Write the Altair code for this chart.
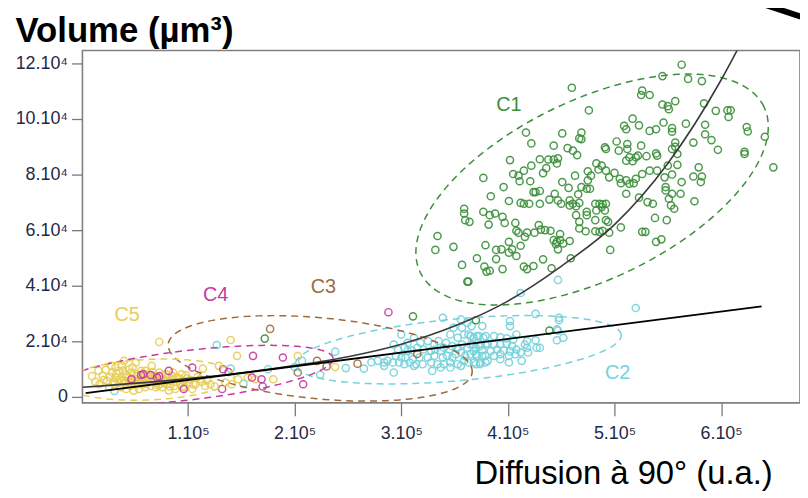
import altair as alt
import numpy as np
import pandas as pd

# ---- data (x in units of 1e5, y in units of 1e4) ----
c1_x = [5.63,5.45,5.69,5.82,4.60,5.26,5.25,5.33,5.45,5.50,5.57,5.51,5.84,4.76,5.95,6.06,6.09,6.07,5.17,5.09,
        5.11,5.23,5.33,5.39,5.46,5.54,5.54,5.67,5.85,6.24,6.25,6.41,4.17,4.51,4.69,4.67,4.69,4.22,4.43,4.56,
        4.61,4.65,4.91,4.92,5.02,5.04,5.12,5.12,5.25,5.39,5.40,5.30,5.22,5.14,5.11,5.17,5.20,5.54,5.57,5.57,
        5.59,5.74,5.85,5.91,5.97,6.22,6.22,6.49,
        4.02,4.30,4.38,4.43,4.47,4.46,4.22,4.36,4.15,4.05,4.10,4.33,3.77,4.11,4.21,3.96,4.24,4.26,4.30,4.44,
        4.51,4.57,4.63,4.75,4.83,4.88,4.85,4.92,4.78,4.75,4.69,4.77,4.74,4.95,5.00,5.05,5.06,5.11,5.14,5.18,
        5.20,5.26,5.33,5.40,5.47,5.50,5.59,5.54,5.63,5.48,5.48,5.54,5.62,5.51,5.53,5.56,5.79,5.74,5.82,5.81,
        5.75,5.11,5.31,5.36,5.23,
        3.84,4.01,4.12,4.15,4.20,4.30,4.39,4.47,4.50,4.58,4.58,4.61,4.64,4.67,4.66,4.82,4.86,4.89,4.92,4.88,
        4.83,4.91,4.64,4.74,4.74,4.82,4.92,4.94,3.59,3.59,3.60,3.64,3.77,3.83,3.88,3.95,3.97,3.82,4.07,
        3.34,3.32,3.49,3.79,3.89,3.94,4.01,4.04,4.08,4.10,4.16,4.18,4.25,4.29,4.31,4.35,4.40,4.43,4.46,4.49,
        4.49,4.52,4.58,4.67,4.67,4.73,4.82,4.86,4.89,4.95,5.06,5.26,5.29,5.39,5.44,5.49,5.38,4.96,4.12,4.08,
        3.89,4.15,4.18,4.24,4.33,4.41,4.59,3.57,3.78,3.80,3.83,3.95,3.62,3.63,4.47,4.45,4.01,3.71,
        1.72,3.11,3.70,4.39]
c1_y = [11.95,11.54,11.44,11.36,11.12,11.02,10.86,10.86,10.52,10.46,10.64,10.35,10.56,10.31,10.29,10.31,10.31,10.07,10.01,9.75,
        9.63,9.77,9.57,9.63,9.87,9.67,9.54,9.83,9.79,9.71,9.55,9.36,9.51,9.48,9.51,9.30,9.27,9.12,9.04,8.95,
        8.86,8.70,8.98,8.92,9.19,8.86,9.10,8.92,9.04,8.76,8.68,8.66,8.68,8.62,8.50,8.48,8.62,8.92,9.15,9.00,
        8.74,9.15,9.45,9.24,8.89,8.82,8.74,8.26,
        8.52,8.55,8.54,8.54,8.58,8.40,8.32,8.23,8.14,8.02,7.96,8.05,7.88,7.76,7.76,7.55,7.37,7.37,7.41,7.31,
        7.73,7.52,7.96,8.12,8.40,8.32,8.18,8.14,7.96,7.79,7.55,7.49,7.49,7.90,8.06,7.85,7.69,7.79,7.67,7.69,
        7.85,8.02,8.14,8.14,7.90,8.32,8.35,8.00,7.73,7.55,7.43,7.31,7.31,7.13,6.89,6.77,8.26,7.93,7.93,7.73,
        7.04,7.31,7.01,6.95,7.17,
        7.22,7.05,6.98,6.95,6.95,6.95,7.10,7.07,6.95,7.07,6.89,6.95,6.86,6.98,7.29,6.95,6.95,6.93,6.95,6.83,
        6.71,6.71,6.54,6.66,6.54,6.36,6.36,6.30,6.77,6.60,6.36,6.30,6.66,6.54,6.60,6.48,6.26,6.20,6.26,
        5.79,5.29,5.40,5.46,5.29,5.31,5.58,5.31,5.98,5.91,5.76,5.91,5.91,6.18,6.02,6.00,5.98,5.64,5.58,5.86,
        5.64,5.52,5.61,6.06,6.30,5.96,5.96,5.94,5.98,5.91,6.10,5.94,5.94,5.58,5.67,6.36,6.44,5.29,5.44,5.07,
        4.96,4.69,4.60,4.71,4.95,4.63,4.99,4.75,4.69,4.51,4.54,4.60,4.15,4.15,5.31,5.50,5.19,4.99,
        2.10,2.90,2.76,2.39]

c2_x = [3.39,3.56,3.62,3.49,3.57,3.66,3.76,
        3.00,3.06,3.12,3.18,3.25,3.31,3.35,3.42,3.46,3.53,3.59,3.63,3.68,3.73,3.77,
        2.93,2.97,3.03,3.06,3.10,3.15,3.21,3.28,3.32,3.37,3.40,3.45,3.48,3.53,3.57,3.62,3.65,3.70,3.74,3.79,
        2.95,3.00,3.04,3.11,3.17,3.25,3.31,3.39,3.43,3.48,3.51,3.56,3.60,3.65,3.70,3.76,
        2.78,2.84,2.87,2.92,2.98,3.03,3.08,3.14,3.20,3.28,3.34,3.40,3.46,3.53,3.59,3.63,3.70,3.74,3.79,
        2.84,2.93,3.12,3.29,3.37,3.46,3.56,
        2.48,2.38,2.24,2.07,2.00,
        4.47,4.12,5.20,4.26,4.48,4.02,4.02,4.46,4.52,4.46,4.08,4.18,4.26,4.16,4.18,4.27,4.30,4.19,4.12,4.13,
        4.01,3.93,3.81,3.74,3.68,
        3.65,3.71,3.79,3.87,3.93,3.99,4.05,3.67,3.74,3.81,3.87,3.93,3.99,4.04,3.68,3.76,3.84,3.90,3.96,4.02,
        4.08,3.71,3.79,3.87,3.93,4.01,4.07,
        1.27,1.40,1.52,1.75,0.31,2.65,2.72,4.48,4.47]
c2_y = [2.85,2.79,2.67,2.49,2.49,2.55,2.55,
        2.25,1.95,2.13,1.95,2.01,1.89,2.01,1.95,2.25,2.13,2.25,2.25,2.13,2.19,2.13,
        1.89,1.71,1.77,1.66,1.68,1.77,1.71,1.66,1.71,1.66,1.77,1.71,1.83,1.77,1.89,1.77,1.89,1.77,1.83,1.89,
        1.48,1.42,1.42,1.36,1.42,1.42,1.48,1.42,1.48,1.42,1.54,1.60,1.48,1.54,1.54,1.48,
        1.30,1.24,1.30,1.24,1.24,1.18,1.24,1.18,1.18,1.24,1.18,1.18,1.24,1.18,1.30,1.24,1.18,1.24,1.24,
        1.12,0.88,1.12,0.94,1.06,1.06,1.12,
        1.04,1.63,0.80,1.30,1.08,
        4.21,3.74,3.20,2.99,2.85,2.73,2.55,2.43,2.13,2.04,2.25,2.01,2.04,1.89,1.77,1.77,1.77,1.60,1.60,1.30,
        1.24,1.36,1.30,1.18,1.24,
        2.19,2.19,2.19,2.19,2.15,2.11,2.07,1.89,1.89,1.92,1.89,1.89,1.92,1.83,1.65,1.68,1.65,1.71,1.68,1.65,
        1.71,1.48,1.48,1.48,1.54,1.48,1.54,
        1.87,1.02,0.47,1.00,0.22,1.02,1.25,2.76,2.39]

c3_x = [1.77, 2.21, 2.30, 2.59, 2.03, 3.15]
c3_y = [2.45, 1.30, 1.10, 1.20, 0.88, 1.55]

c4_x = [0.47,0.56,0.65,0.71,0.82,0.96,1.04,1.32,1.33,1.38,1.60,1.61,1.69,1.70,1.89,2.08,2.88,0.73,0.58]
c4_y = [0.64,0.79,0.79,0.70,0.94,0.29,1.06,0.29,1.00,0.90,0.70,1.48,0.64,0.38,1.42,0.46,3.05,0.74,0.82]

c5_x = [0.29,0.32,0.35,0.38,0.42,0.45,0.48,0.51,0.52,0.54,0.57,0.60,0.62,0.65,0.66,0.68,0.71,0.74,0.76,0.79,
        0.80,0.84,0.87,0.90,0.93,0.96,0.97,1.01,1.04,
        0.24,0.26,0.31,0.37,0.42,0.46,0.49,0.54,0.60,
        0.32,0.38,0.45,0.51,0.56,0.59,0.63,0.70,0.73,0.77,0.82,0.88,0.94,0.99,1.07,1.11,1.16,
        0.20,0.17,0.28,0.40,0.48,0.63,
        0.45,0.57,0.68,0.79,0.35,0.85,0.52,0.73,
        0.10,0.13,0.16,0.21,0.23,0.27,0.30,0.33,0.36,0.39,0.41,0.43,0.47,0.50,0.53,0.55,0.58,0.61,0.64,0.67,
        0.69,0.72,0.75,0.78,0.81,0.83,0.86,0.89,0.92,0.95,0.98,1.02,1.05,1.09,1.13,1.18,1.21,0.40,0.60,0.70,
        0.50,0.86,
        0.73,1.40,1.46,1.29,1.14,1.25,1.35,1.47,1.56,1.63,1.80,2.03,2.38,1.41]
c5_y = [0.88,0.70,0.94,0.58,0.82,1.00,0.64,1.24,0.82,0.46,0.70,0.94,0.58,0.40,1.12,0.76,0.52,0.64,0.35,0.82,
        0.46,0.58,0.40,0.70,0.46,0.58,0.35,0.52,0.29,
        0.58,0.35,0.46,0.35,0.29,0.40,0.23,0.29,0.35,
        1.06,1.12,0.70,0.52,0.94,0.52,0.64,0.35,0.88,0.64,0.23,0.29,0.82,0.67,0.46,0.64,0.40,
        0.76,0.46,1.12,1.30,1.06,0.82,
        0.52,0.46,0.58,0.58,0.52,0.76,0.64,0.46,
        0.75,0.55,0.95,0.62,0.98,0.72,0.55,0.85,0.64,0.95,0.48,0.72,0.88,0.60,0.75,0.55,0.85,0.48,0.72,0.90,
        0.60,0.42,0.78,0.50,0.68,0.38,0.88,0.55,0.66,0.38,0.78,0.62,0.45,0.72,0.55,0.60,0.45,0.58,0.65,0.75,
        0.45,0.65,
        1.98,2.05,1.48,1.12,1.02,0.38,0.52,0.64,0.70,0.64,0.64,1.47,1.08,0.46]

# dashed cluster ellipses: centre and two half-axis vectors (data units)
ell_names = ["C1", "C2", "C3", "C4", "C5"]
ell_cx = [4.79, 3.535, 2.24, 1.01, 0.64]
ell_cy = [7.46, 1.70, 1.39, 0.786, 0.625]
ell_ux = [1.612, 1.528, 1.425, 1.351, 0.791]
ell_uy = [2.976, 0.538, -0.507, 0.608, 0.138]
ell_vx = [-0.364, -0.0265, 0.0351, -0.0271, -0.0086]
ell_vy = [2.896, 1.106, 1.451, 0.883, 0.728]

# fitted curve (grey) and straight line (black)
curve_x = [0.01, 1.0, 2.0, 2.5, 3.0, 3.5, 4.0, 4.5, 5.0, 5.5, 6.0, 6.25]
curve_y = [0.35, 0.66, 1.13, 1.45, 1.90, 2.55, 3.45, 4.70, 6.20, 8.40, 11.40, 13.20]
line_x = [0.04, 6.38]
line_y = [0.14, 3.26]

# cluster labels
lab_text = ["C1", "C2", "C3", "C4", "C5"]
lab_x = [4.01, 5.03, 2.27, 1.26, 0.43]
lab_y = [10.5, 0.86, 3.95, 3.68, 2.96]

clusters = ["C1", "C2", "C3", "C4", "C5"]
colors = ["#3b8f3b", "#74d2db", "#a06b3c", "#c63c9e", "#e8cd55"]

x_ticks = [1, 2, 3, 4, 5, 6]
y_ticks = [0, 2, 4, 6, 8, 10, 12]

# ---- tables ----
rows = []
for name, xs, ys in [("C2", c2_x, c2_y), ("C5", c5_x, c5_y), ("C4", c4_x, c4_y),
                     ("C3", c3_x, c3_y), ("C1", c1_x, c1_y)]:
    for a, b in zip(xs, ys):
        rows.append({"cluster": name, "x": a, "y": b})
points = pd.DataFrame(rows)

t = np.linspace(0, 2 * np.pi, 241)
erows = []
for i, name in enumerate(ell_names):
    for k, tt in enumerate(t):
        erows.append({
            "cluster": name, "k": k,
            "x": ell_cx[i] + ell_ux[i] * np.cos(tt) + ell_vx[i] * np.sin(tt),
            "y": ell_cy[i] + ell_uy[i] * np.cos(tt) + ell_vy[i] * np.sin(tt),
        })
ellipses = pd.DataFrame(erows)

curve = pd.DataFrame({"x": curve_x, "y": curve_y})
line = pd.DataFrame({"x": line_x, "y": line_y})
labels = pd.DataFrame({"cluster": lab_text, "x": lab_x, "y": lab_y})

FONT = "Liberation Sans"
xscale = alt.Scale(domain=[0.01, 6.74], nice=False, zero=False)
yscale = alt.Scale(domain=[-0.21, 12.46], nice=False, zero=False)
cscale = alt.Scale(domain=clusters, range=colors)

xaxis = alt.Axis(values=x_ticks, labelExpr="datum.value + '.10⁵'", grid=False, domain=False,
                 tickSize=13, tickColor="#7a7a7a", tickWidth=1.3, labelFontSize=18,
                 labelColor="#1f2847", labelFont=FONT, labelPadding=9,
                 title="Diffusion à 90° (u.a.)", titleFont=FONT, titleFontSize=33,
                 titleFontWeight="normal", titleColor="black", titleAlign="right",
                 titleBaseline="alphabetic", titleX=695, titleY=81)
yaxis = alt.Axis(values=y_ticks, labelExpr="datum.value == 0 ? '0' : datum.value + '.10⁴'",
                 grid=False, domain=False, tickSize=11, tickColor="#7a7a7a", tickWidth=1.3,
                 labelFontSize=18, labelColor="#1f2847", labelFont=FONT, labelPadding=4,
                 title="Volume (µm³)", titleFont=FONT, titleFontSize=35, titleFontWeight="bold",
                 titleColor="black", titleAngle=0, titleAlign="left", titleBaseline="alphabetic",
                 titleX=-68, titleY=-9)

X = alt.X("x:Q", scale=xscale, axis=xaxis)
Y = alt.Y("y:Q", scale=yscale, axis=yaxis)

pts = alt.Chart(points).mark_point(shape="circle", filled=False, size=52, strokeWidth=1.5,
                                   opacity=0.9, clip=True).encode(
    x=X, y=Y, color=alt.Color("cluster:N", scale=cscale, legend=None))

ell = alt.Chart(ellipses).mark_line(strokeDash=[7, 5], strokeWidth=1.5, clip=True).encode(
    x="x:Q", y="y:Q", color=alt.Color("cluster:N", scale=cscale, legend=None),
    detail="cluster:N", order=alt.Order("k:Q"))

crv = alt.Chart(curve).mark_line(color="#3a3a3a", strokeWidth=1.6, clip=True,
                                 interpolate="monotone").encode(x="x:Q", y="y:Q")
lin = alt.Chart(line).mark_line(color="black", strokeWidth=1.8).encode(x="x:Q", y="y:Q")

txt = alt.Chart(labels).mark_text(fontSize=20, font=FONT).encode(
    x="x:Q", y="y:Q", text="cluster:N",
    color=alt.Color("cluster:N", scale=cscale, legend=None))

wedge = alt.Chart(pd.DataFrame({"d": [0]})).mark_rule(color="black", strokeWidth=6).encode(
    x=alt.value(679), y=alt.value(-49), x2=alt.value(727), y2=alt.value(-33))

chart = alt.layer(pts, ell, crv, lin, txt, wedge).properties(
    width=723, height=355,
    padding={"left": 75, "top": 41, "right": 0, "bottom": 92},
    autosize=alt.AutoSizeParams(type="none"),
    background="white",
).configure_view(stroke="#808080", strokeWidth=1.6)

chart.save("out.html", embed_options={"renderer": "svg", "actions": False})
